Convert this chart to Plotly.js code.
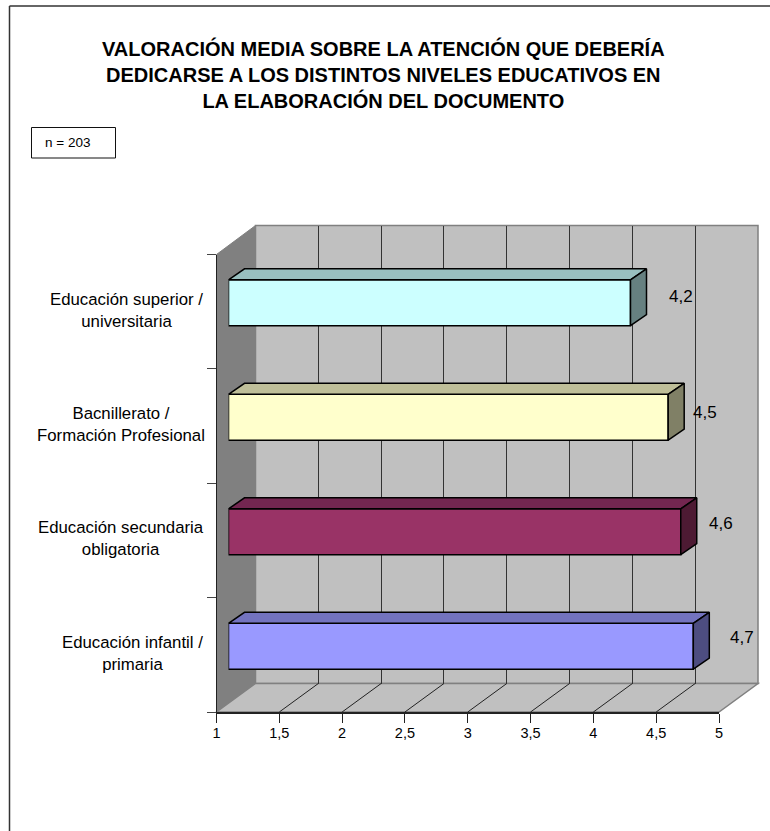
<!DOCTYPE html>
<html><head><meta charset="utf-8">
<script src="https://cdn.plot.ly/plotly-3.0.1.min.js"></script>
<style>html,body{margin:0;padding:0;background:#fff}</style></head>
<body><div id="chart" style="width:770px;height:831px"></div>
<script>
const categories = ["Educación infantil /<br>primaria","Educación secundaria<br>obligatoria","Bacnillerato /<br>Formación Profesional","Educación superior /<br>universitaria"];
const values = [4.7,4.6,4.5,4.2];
const frontColors = ["#9999FF","#993366","#FFFFCC","#CCFFFF"];
const topColors = ["#7373BF","#732650","#BFBF99","#99BFBF"];
const sideColors = ["#4D4D80","#4D1A33","#808066","#668080"];
const labelShift = [49,40,37,50];
const labelRise = [8.5,8.5,5,6];
const categoryCentre = [132,120.5,120.5,126.5];
const axisMin = 1, axisMax = 5;
const titleText = "VALORACIÓN MEDIA SOBRE LA ATENCIÓN QUE DEBERÍA<br>DEDICARSE A LOS DISTINTOS NIVELES EDUCATIVOS EN<br>LA ELABORACIÓN DEL DOCUMENTO";

const W=770,H=831;
const FONT="Liberation Sans, Arial, sans-serif";
const px=x=>x/W, py=y=>1-y/H;
const front={x0:216.5,x1:719,y0:254.5,y1:712}, depthX=39, depthY=28.5;
const wallTop=225.5;
const barX0=228.5, barY1=703.5, barDx=16, barDy=11;
const unit=(front.x1-front.x0)/(axisMax-axisMin);
const bandH=(front.y1-front.y0)/4;
const barWidth=0.4;
const dxU=barDx/unit, dyU=barDy/bandH;
const poly=(pts,fill,line,w)=>({type:"path",xref:"paper",yref:"paper",layer:"below",
  path:"M"+pts.map(p=>px(p[0])+","+py(p[1])).join("L")+"Z",fillcolor:fill,line:{color:line,width:w}});
const seg=(x0,y0,x1,y1,c,w)=>({type:"line",xref:"paper",yref:"paper",layer:"below",x0:px(x0),y0:py(y0),x1:px(x1),y1:py(y1),line:{color:c,width:w}});

const shapes=[
 poly([[front.x0+depthX,wallTop],[front.x1+depthX,wallTop],[front.x1+depthX,front.y1-depthY],[front.x0+depthX,front.y1-depthY]],"#C0C0C0","#808080",1.5),
 poly([[front.x0,front.y0],[front.x0+depthX,wallTop],[front.x0+depthX,front.y1-depthY],[front.x0,front.y1]],"#808080","#808080",1),
 poly([[front.x0,front.y1],[front.x0+depthX,front.y1-depthY],[front.x1+depthX,front.y1-depthY],[front.x1,front.y1]],"#C0C0C0","#808080",1.5),
];
for(let t=axisMin+0.5;t<axisMax;t+=0.5){
  const x=front.x0+(t-axisMin)*unit;
  shapes.push(seg(x,front.y1,x+depthX,front.y1-depthY,"#222",1));
}
shapes.push(seg(9.5,831,9.5,6,"#333",1.5),seg(9.5,6,770,6,"#333",1.5));
shapes.push({type:"rect",xref:"paper",yref:"paper",layer:"above",x0:px(31.5),x1:px(115.5),y0:py(158),y1:py(127.5),fillcolor:"#fff",line:{color:"#111",width:1}});

const ys=categories.map((_,i)=>i);
const traces=[
 {type:"scatter",x:[axisMin],y:[0],xaxis:"x",yaxis:"y",mode:"markers",marker:{opacity:0},hoverinfo:"skip",showlegend:false},
 {type:"scatter",x:[axisMin],y:[0],xaxis:"x2",yaxis:"y2",mode:"markers",marker:{opacity:0},hoverinfo:"skip",showlegend:false},
 {type:"bar",orientation:"h",y:ys,x:values.map(v=>v-axisMin),base:axisMin,width:barWidth,xaxis:"x3",yaxis:"y3",
  marker:{color:frontColors,line:{color:"#000",width:1.5}},hoverinfo:"skip",showlegend:false}
];
values.forEach((v,i)=>{
  const b=i-barWidth/2,t=i+barWidth/2;
  traces.push({type:"scatter",mode:"lines",xaxis:"x3",yaxis:"y3",fill:"toself",fillcolor:topColors[i],line:{color:"#000",width:1.5},hoverinfo:"skip",showlegend:false,
    x:[axisMin,axisMin+dxU,v+dxU,v,axisMin],y:[t,t+dyU,t+dyU,t,t],cliponaxis:false});
  traces.push({type:"scatter",mode:"lines",xaxis:"x3",yaxis:"y3",fill:"toself",fillcolor:sideColors[i],line:{color:"#000",width:1.5},hoverinfo:"skip",showlegend:false,
    x:[v,v+dxU,v+dxU,v,v],y:[t,t+dyU,b+dyU,b,t],cliponaxis:false});
});

const annotations=[
 {xref:"paper",yref:"paper",x:px(383),y:py(75),yanchor:"middle",xanchor:"center",showarrow:false,align:"center",text:"<b>"+titleText+"</b>",font:{family:FONT,size:20,color:"#000"}},
 {xref:"paper",yref:"paper",x:px(43),y:py(142),xanchor:"left",yanchor:"middle",showarrow:false,text:"n = 203",font:{family:FONT,size:13.5,color:"#000"}}
];
categories.forEach((c,i)=>annotations.push({xref:"paper",yref:"y",x:px(categoryCentre[i]),y:i,yshift:1.5,xanchor:"center",yanchor:"middle",align:"center",showarrow:false,text:c,font:{family:FONT,size:16.8,color:"#000"}}));
values.forEach((v,i)=>annotations.push({xref:"x3",yref:"y3",x:v,y:i,xshift:labelShift[i],yshift:labelRise[i],xanchor:"center",yanchor:"middle",showarrow:false,text:String(v).replace(".",","),font:{family:FONT,size:17,color:"#000"}}));

const layout={
 width:W,height:H,margin:{l:0,r:0,t:0,b:0},paper_bgcolor:"#fff",plot_bgcolor:"rgba(0,0,0,0)",separators:",.",showlegend:false,
 font:{family:FONT,size:14.5,color:"#000"},
 xaxis:{domain:[px(front.x0),px(front.x1)],range:[axisMin,axisMax],dtick:0.5,tick0:1,anchor:"y",showgrid:false,zeroline:false,showline:true,linecolor:"#222",linewidth:1.5,ticks:"outside",ticklen:9,tickcolor:"#222",ticklabelstandoff:-2,tickfont:{family:FONT,size:14.5,color:"#000"}},
 yaxis:{domain:[py(front.y1),py(front.y0)],range:[-0.5,3.5],tickvals:[-0.5,0.5,1.5,2.5,3.5],showticklabels:false,anchor:"x",showgrid:false,zeroline:false,showline:true,linecolor:"#222",linewidth:1,ticks:"outside",ticklen:9,tickcolor:"#444"},
 xaxis2:{domain:[px(front.x0+depthX),px(front.x1+depthX)],range:[axisMin,axisMax],dtick:0.5,tick0:1,anchor:"y2",showgrid:true,gridcolor:"#333",gridwidth:1,showticklabels:false,zeroline:false,ticks:""},
 yaxis2:{domain:[py(front.y1-depthY),py(wallTop)],range:[0,1],anchor:"x2",showgrid:false,showticklabels:false,zeroline:false,ticks:""},
 xaxis3:{domain:[px(barX0),px(barX0+front.x1-front.x0)],range:[axisMin,axisMax],anchor:"y3",visible:false},
 yaxis3:{domain:[py(barY1),py(barY1-458)],range:[-0.5,3.5],anchor:"x3",visible:false},
 shapes,annotations
};
Plotly.newPlot("chart",traces,layout,{staticPlot:true,displayModeBar:false});
</script></body></html>
